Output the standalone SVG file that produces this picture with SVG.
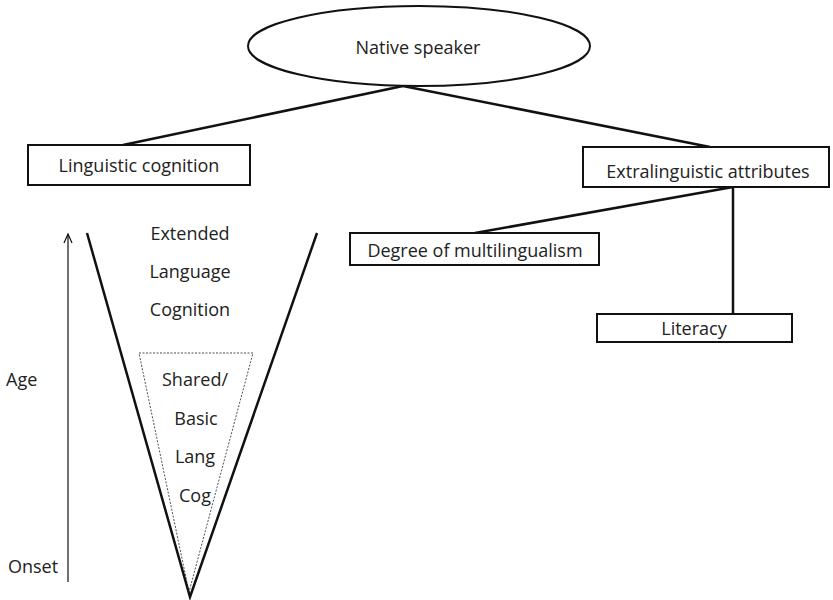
<svg xmlns="http://www.w3.org/2000/svg" width="833" height="600" viewBox="0 0 833 600">
<style>
text{font-family:"Open Sans","Liberation Sans",sans-serif;font-size:18px;fill:#222;text-anchor:middle}
.box{fill:#fff;stroke:#111;stroke-width:2}
.con{stroke:#111;stroke-width:2.5;fill:none}
.v{stroke:#111;stroke-width:2.5;fill:none}
</style>
<rect width="833" height="600" fill="#fff"/>
<g id="connectors">
<line class="con" x1="403" y1="86" x2="123" y2="145"/>
<line class="con" x1="403" y1="86" x2="710" y2="147"/>
<line class="con" x1="475" y1="233" x2="733" y2="187"/>
<line class="con" x1="733" y1="187" x2="733" y2="314"/>
</g>
<g id="native-speaker">
<ellipse cx="419" cy="46" rx="171" ry="40" fill="#fff" stroke="#111" stroke-width="2"/>
<text x="418" y="54">Native speaker</text>
</g>
<g id="linguistic-cognition">
<rect class="box" x="28" y="145" width="222" height="40"/>
<text x="139" y="172">Linguistic cognition</text>
</g>
<g id="extralinguistic-attributes">
<rect class="box" x="583" y="147" width="246" height="40"/>
<text x="708" y="178">Extralinguistic attributes</text>
</g>
<g id="degree-of-multilingualism">
<rect class="box" x="350" y="233" width="249" height="32"/>
<text x="475" y="257">Degree of multilingualism</text>
</g>
<g id="literacy">
<rect class="box" x="597" y="314" width="195" height="28"/>
<text x="694" y="335">Literacy</text>
</g>
<g id="age-axis">
<line x1="68" y1="582" x2="68" y2="234" stroke="#111" stroke-width="1.2"/>
<polyline points="64,243 68,234 72,243" fill="none" stroke="#111" stroke-width="1.2"/>
<text x="6" y="386" style="text-anchor:start">Age</text>
<text x="8" y="573" style="text-anchor:start">Onset</text>
</g>
<g id="extended-language-cognition">
<polyline class="v" points="87,233 190,597 317,233"/>
<text x="190" y="240">Extended</text>
<text x="190" y="278">Language</text>
<text x="190" y="316">Cognition</text>
</g>
<g id="shared-basic-lang-cog">
<polygon points="139,353 253,353 189,592" fill="none" stroke="#222" stroke-width="0.8" stroke-dasharray="2,1.5"/>
<text x="195" y="386">Shared/</text>
<text x="196" y="425">Basic</text>
<text x="195" y="463">Lang</text>
<text x="195" y="502">Cog</text>
</g>
</svg>
